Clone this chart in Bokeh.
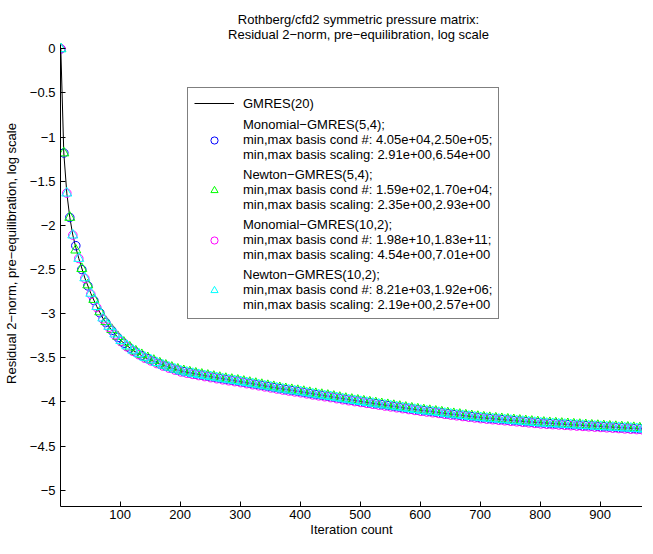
from bokeh.plotting import figure
from bokeh.models import Range1d, FixedTicker, Legend, LegendItem, CustomJSTickFormatter, Label
from bokeh.embed import file_html
from bokeh.resources import INLINE

FONT = "Liberation Sans"

title_lines = ["Rothberg/cfd2 symmetric pressure matrix:",
               "Residual 2\u2212norm, pre\u2212equilibration, log scale"]
x_label = "Iteration count"
y_label = "Residual 2\u2212norm, pre\u2212equilibration, log scale"
x_ticks = [100, 200, 300, 400, 500, 600, 700, 800, 900]
y_ticks = [0, -0.5, -1, -1.5, -2, -2.5, -3, -3.5, -4, -4.5, -5]

labels = [
    "GMRES(20)",
    "Monomial\u2212GMRES(5,4);\nmin,max basis cond #: 4.05e+04,2.50e+05;\nmin,max basis scaling: 2.91e+00,6.54e+00",
    "Newton\u2212GMRES(5,4);\nmin,max basis cond #: 1.59e+02,1.70e+04;\nmin,max basis scaling: 2.35e+00,2.93e+00",
    "Monomial\u2212GMRES(10,2);\nmin,max basis cond #: 1.98e+10,1.83e+11;\nmin,max basis scaling: 4.54e+00,7.01e+00",
    "Newton\u2212GMRES(10,2);\nmin,max basis cond #: 8.21e+03,1.92e+06;\nmin,max basis scaling: 2.19e+00,2.57e+00",
]

# GMRES(20) reference curve
gmres_iters = [1, 6, 11, 16, 21, 26, 31, 41, 51, 61, 71, 81, 91, 101, 121, 141, 161, 181, 201,
               241, 281, 321, 361, 401, 461, 521, 581, 641, 701, 781, 861, 941, 1000]
gmres_vals = [0.0, -1.18, -1.635, -1.91, -2.11, -2.25, -2.375, -2.595, -2.77, -2.92, -3.05, -3.145,
              -3.23, -3.305, -3.415, -3.495, -3.555, -3.607, -3.65, -3.703, -3.75, -3.795, -3.843,
              -3.886, -3.953, -4.016, -4.076, -4.13, -4.179, -4.227, -4.263, -4.295, -4.32]

# (5,4) variants, recorded at iterations 1, 6, 16, 26, ...
iters_54 = [1] + list(range(6, 991, 10))
mono54 = [0.0,
    -1.18, -1.91, -2.23, -2.50, -2.685, -2.85, -2.99, -3.10, -3.19, -3.27,
    -3.335, -3.39, -3.435, -3.475, -3.51, -3.54, -3.57, -3.595, -3.618, -3.64,
    -3.657, -3.671, -3.685, -3.697, -3.709, -3.721, -3.733, -3.745, -3.755, -3.765,
    -3.777, -3.789, -3.801, -3.813, -3.825, -3.837, -3.849, -3.861, -3.871, -3.881,
    -3.892, -3.904, -3.916, -3.926, -3.936, -3.947, -3.959, -3.971, -3.981, -3.991,
    -4.001, -4.011, -4.021, -4.031, -4.041, -4.051, -4.061, -4.071, -4.081, -4.091,
    -4.100, -4.108, -4.116, -4.125, -4.135, -4.143, -4.151, -4.159, -4.167, -4.175,
    -4.182, -4.188, -4.194, -4.200, -4.206, -4.212, -4.218, -4.224, -4.230, -4.236,
    -4.241, -4.245, -4.249, -4.253, -4.257, -4.261, -4.265, -4.269, -4.273, -4.277,
    -4.281, -4.285, -4.289, -4.293, -4.297, -4.301, -4.305, -4.309, -4.313]
newton54 = [0.0,
    -1.18, -1.91, -2.28, -2.49, -2.675, -2.84, -2.98, -3.09, -3.18, -3.26,
    -3.325, -3.38, -3.425, -3.465, -3.50, -3.53, -3.56, -3.585, -3.608, -3.63,
    -3.647, -3.661, -3.675, -3.687, -3.699, -3.711, -3.723, -3.735, -3.745, -3.755,
    -3.767, -3.779, -3.791, -3.803, -3.815, -3.827, -3.839, -3.851, -3.861, -3.871,
    -3.882, -3.894, -3.906, -3.916, -3.926, -3.937, -3.949, -3.961, -3.971, -3.981,
    -3.991, -4.001, -4.011, -4.021, -4.031, -4.041, -4.051, -4.061, -4.071, -4.081,
    -4.090, -4.098, -4.106, -4.115, -4.125, -4.133, -4.141, -4.149, -4.157, -4.165,
    -4.172, -4.178, -4.184, -4.190, -4.196, -4.202, -4.208, -4.214, -4.220, -4.226,
    -4.231, -4.235, -4.239, -4.243, -4.247, -4.251, -4.255, -4.259, -4.263, -4.267,
    -4.271, -4.275, -4.279, -4.283, -4.287, -4.291, -4.295, -4.299, -4.303]

# (10,2) variants, recorded at iterations 1, 11, 21, ...
iters_102 = list(range(1, 991, 10))
mono102 = [0.0,
    -1.635, -2.11, -2.375, -2.60, -2.78, -2.93, -3.06, -3.155, -3.24, -3.315,
    -3.375, -3.425, -3.465, -3.505, -3.535, -3.565, -3.593, -3.617, -3.639, -3.66,
    -3.674, -3.688, -3.701, -3.713, -3.725, -3.737, -3.749, -3.760, -3.770, -3.781,
    -3.793, -3.805, -3.817, -3.829, -3.841, -3.853, -3.865, -3.876, -3.886, -3.896,
    -3.908, -3.920, -3.931, -3.941, -3.951, -3.963, -3.975, -3.986, -3.996, -4.006,
    -4.016, -4.026, -4.036, -4.046, -4.056, -4.066, -4.076, -4.086, -4.096, -4.106,
    -4.114, -4.122, -4.130, -4.140, -4.149, -4.157, -4.165, -4.173, -4.181, -4.189,
    -4.195, -4.201, -4.207, -4.213, -4.219, -4.225, -4.231, -4.237, -4.243, -4.249,
    -4.253, -4.257, -4.261, -4.265, -4.269, -4.273, -4.277, -4.281, -4.285, -4.289,
    -4.293, -4.297, -4.301, -4.305, -4.309, -4.313, -4.317, -4.321]
newton102 = [0.0,
    -1.635, -2.11, -2.375, -2.595, -2.77, -2.92, -3.05, -3.145, -3.23, -3.305,
    -3.365, -3.415, -3.455, -3.495, -3.525, -3.555, -3.583, -3.607, -3.629, -3.65,
    -3.664, -3.678, -3.691, -3.703, -3.715, -3.727, -3.739, -3.750, -3.760, -3.771,
    -3.783, -3.795, -3.807, -3.819, -3.831, -3.843, -3.855, -3.866, -3.876, -3.886,
    -3.898, -3.910, -3.921, -3.931, -3.941, -3.953, -3.965, -3.976, -3.986, -3.996,
    -4.006, -4.016, -4.026, -4.036, -4.046, -4.056, -4.066, -4.076, -4.086, -4.096,
    -4.104, -4.112, -4.120, -4.130, -4.139, -4.147, -4.155, -4.163, -4.171, -4.179,
    -4.185, -4.191, -4.197, -4.203, -4.209, -4.215, -4.221, -4.227, -4.233, -4.239,
    -4.243, -4.247, -4.251, -4.255, -4.259, -4.263, -4.267, -4.271, -4.275, -4.279,
    -4.283, -4.287, -4.291, -4.295, -4.299, -4.303, -4.307, -4.311]

Y_TOP, Y_BOT = 0.547, -5.184
p = figure(frame_width=582, frame_height=506, title=None,
           x_range=Range1d(0.5, 970.5), y_range=Range1d(Y_BOT, Y_TOP),
           output_backend="svg", toolbar_location=None,
           min_border_left=0, min_border_right=0, min_border_top=0, min_border_bottom=0)

p.xgrid.visible = False
p.ygrid.visible = False
p.outline_line_color = None
p.background_fill_color = "white"
p.border_fill_color = "white"

for ax in (p.xaxis[0], p.yaxis[0]):
    ax.axis_line_color = "black"
    ax.major_tick_line_color = "black"
    ax.major_tick_in = 5
    ax.major_tick_out = 0
    ax.minor_tick_line_color = None
    ax.major_label_text_font = FONT
    ax.major_label_text_font_size = "13px"
    ax.major_label_text_color = "black"
    ax.axis_label_text_font = FONT
    ax.axis_label_text_font_size = "13px"
    ax.axis_label_text_font_style = "normal"
    ax.axis_label_text_color = "black"

p.xaxis.ticker = FixedTicker(ticks=x_ticks)
p.yaxis.ticker = FixedTicker(ticks=y_ticks)
p.yaxis.bounds = (Y_BOT, 0.05)
p.yaxis.formatter = CustomJSTickFormatter(code="return String(tick).replace('-', '\\u2212');")
p.xaxis.axis_label = x_label
p.yaxis.axis_label = y_label
p.xaxis.major_label_standoff = 3
p.xaxis.axis_label_standoff = 0
p.yaxis.major_label_standoff = 5
p.yaxis.axis_label_standoff = 8

r0 = p.line(gmres_iters, gmres_vals, line_color="black", line_width=1)
r1 = p.scatter(iters_54, mono54, marker="circle", size=8.5, fill_color=None,
               line_color="#0000ff", line_width=1)
r2 = p.scatter(iters_54, newton54, marker="triangle", size=10, fill_color=None,
               line_color="#00ff00", line_width=1)
r3 = p.scatter(iters_102, mono102, marker="circle", size=8.5, fill_color=None,
               line_color="#ff00ff", line_width=1)
r4 = p.scatter(iters_102, newton102, marker="triangle", size=10, fill_color=None,
               line_color="#00ffff", line_width=1)

# two centred title lines, drawn above the data inside the canvas
for t, ty in zip(title_lines, [0.332, 0.162]):
    p.add_layout(Label(x=497.2, y=ty, text=t, text_align="center", text_baseline="middle",
                       text_font=FONT, text_font_size="13px", text_color="black"))

legend = Legend(items=[LegendItem(label=l, renderers=[r]) for l, r in zip(labels, [r0, r1, r2, r3, r4])],
                location=(127, 187), padding=6, spacing=5, margin=0,
                label_height=18, glyph_height=18, glyph_width=40, label_standoff=9,
                label_text_font=FONT, label_text_font_size="13px", label_text_line_height=1.15,
                label_text_color="black",
                border_line_color="black", border_line_width=1,
                background_fill_color="white", background_fill_alpha=1.0)
p.add_layout(legend)

open("out.html", "w").write(file_html(p, INLINE))
